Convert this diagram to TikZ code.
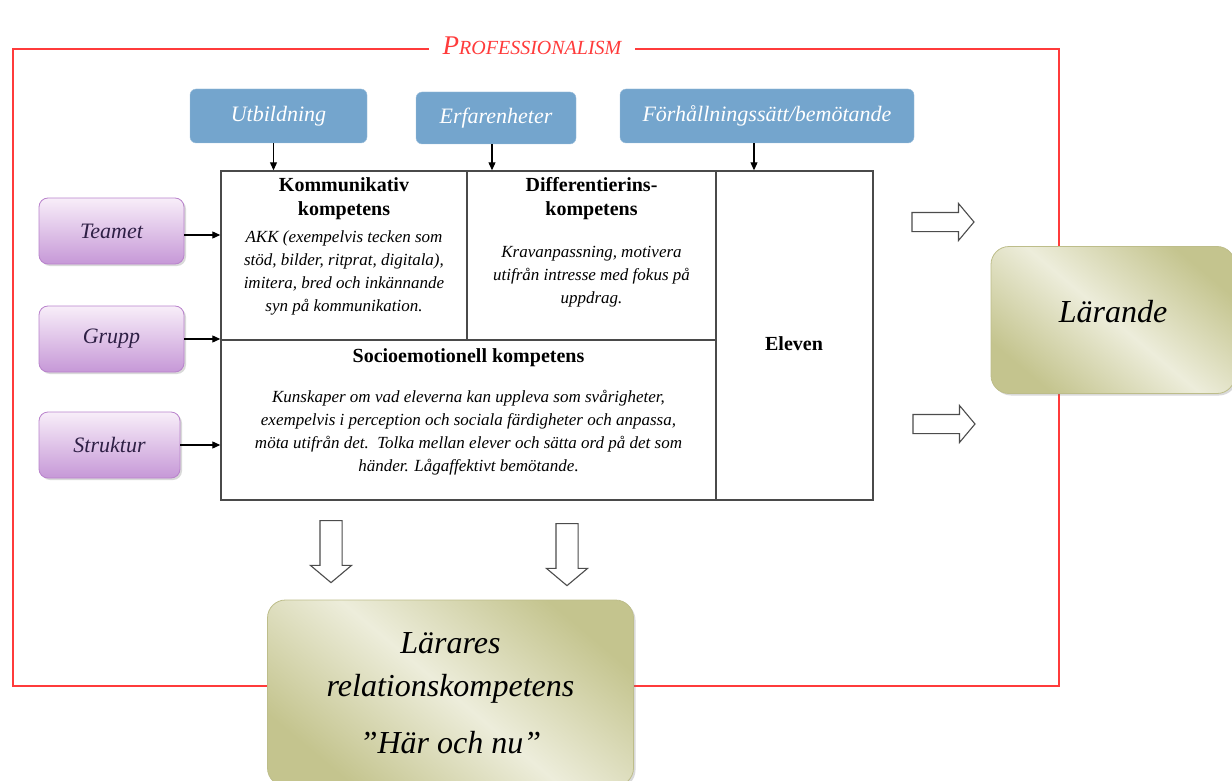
\documentclass[tikz,border=0pt]{standalone}
\usepackage{fontspec}
\setmainfont{Liberation Serif}
\usetikzlibrary{arrows.meta,positioning,shapes.arrows,shadows}
\definecolor{frred}{HTML}{FF3B3B}
\definecolor{srcblue}{HTML}{74A5CD}
\definecolor{grplight}{HTML}{F8EEF9}
\definecolor{grpdark}{HTML}{C698D7}
\definecolor{grpedge}{HTML}{B983CC}
\definecolor{grptext}{HTML}{2E1F45}
\definecolor{olvdark}{HTML}{C4C48E}
\definecolor{olvlight}{HTML}{EDEDDB}
\definecolor{olvedge}{HTML}{BDBD8A}
\definecolor{cellgray}{HTML}{4A4A4A}

\begin{document}
\begin{tikzpicture}[
    x=1pt,
    y=-1pt,
    source/.style={rectangle, rounded corners=6pt, fill=srcblue, draw=srcblue!70!white, text=white, font=\fontsize{22}{26}\selectfont\itshape, inner sep=0pt},
    factor/.style={rectangle, rounded corners=9pt, draw=grpedge, thick, top color=grplight, bottom color=grpdark, text=grptext, font=\fontsize{22}{26}\selectfont\itshape, inner sep=0pt, minimum height=66pt, drop shadow={opacity=0.3, shadow xshift=2pt, shadow yshift=-2pt}},
    outcome/.style={rectangle, rounded corners=18pt, draw=olvedge, thick, shading=axis, left color=olvdark, right color=olvdark, middle color=olvlight, shading angle=-40, align=center, inner sep=0pt, font=\fontsize{32}{43}\selectfont\itshape, drop shadow={opacity=0.3, shadow xshift=2pt, shadow yshift=-2pt}},
    cell/.style={rectangle, draw=cellgray, line width=1.4pt, inner sep=0pt},
    cellhead/.style={font=\fontsize{20}{24}\selectfont\bfseries, align=center, inner sep=0pt},
    celltext/.style={font=\fontsize{17}{23}\selectfont\itshape, align=center, inner sep=0pt},
    link/.style={-{Triangle[length=8pt,width=7pt]}, line width=1.1pt, black},
    hollow/.style={single arrow, draw=black!70, fill=white, line width=1.1pt, inner xsep=0pt, inner ysep=9pt, single arrow head extend=9pt, single arrow tip angle=100, minimum height=62pt},
    hollowdown/.style={hollow, shape border rotate=270, inner xsep=10.5pt, inner ysep=0pt, single arrow head extend=9.5pt}
  ]
    \useasboundingbox (0,0) rectangle (1232,781);

    % frame
    \draw[frred, line width=1.3pt] (13,49) rectangle (1059,686);
    \node[fill=white, text=frred, inner xsep=14pt, inner ysep=2pt, font=\itshape] (prof) at (532,46)
      {\fontsize{27}{30}\selectfont P\fontsize{20}{30}\selectfont ROFESSIONALISM};

    % sources
    \node[source, minimum width=177pt, minimum height=54pt] (utb) at (278.5,116) {Utbildning};
    \node[source, minimum width=160pt, minimum height=52pt] (erf) at (496,118) {Erfarenheter};
    \node[source, minimum width=294pt, minimum height=54pt] (forh) at (767,116) {Förhållningssätt/bemötande};

    % table
    \node[cell, minimum width=246pt, minimum height=169pt] (komm) at (344,255.5) {};
    \node[cell, minimum width=249pt, minimum height=169pt] (diff) at (591.5,255.5) {};
    \node[cell, minimum width=495pt, minimum height=160pt] (socio) at (468.5,420) {};
    \node[cell, minimum width=157pt, minimum height=329pt] (elev) at (794.5,335.5) {};

    \node[cellhead, below=7pt of komm.north] (kommh) {Kommunikativ\\kompetens};
    \node[celltext, below=11pt of kommh] (kommt) {AKK (exempelvis tecken som\\stöd, bilder, ritprat, digitala),\\imitera, bred och inkännande\\syn på kommunikation.};
    \node[cellhead, below=7pt of diff.north] (diffh) {Differentierins-\\kompetens};
    \node[celltext, below=26pt of diffh] (difft) {Kravanpassning, motivera\\utifrån intresse med fokus på\\uppdrag.};
    \node[cellhead, below=9pt of socio.north] (socioh) {Socioemotionell kompetens};
    \node[celltext, below=23pt of socioh] (sociot) {Kunskaper om vad eleverna kan uppleva som svårigheter,\\exempelvis i perception och sociala färdigheter och anpassa,\\möta utifrån det.\ \ Tolka mellan elever och sätta ord på det som\\händer. Lågaffektivt bemötande.};
    \node[cellhead] (elevh) at (794,344) {Eleven};

    % factors
    \node[factor, minimum width=145pt] (team) at (111.5,231) {Teamet};
    \node[factor, minimum width=145pt] (grp) at (111.5,339) {Grupp};
    \node[factor, minimum width=141pt] (str) at (109.5,445) {Struktur};

    % outcomes
    \node[outcome, minimum width=244pt, minimum height=147pt, text depth=18pt] (lar) at (1113,320) {Lärande};
    \node[outcome, minimum width=366pt, minimum height=186pt] (rel) at (450.5,693)
      {Lärares\\relationskompetens\\[14pt]”Här och nu”};

    % hollow arrows
    \node[hollow] (ha1) at (939,222) {};
    \node[hollow] (ha2) at (940,424) {};
    \node[hollowdown] (hb1) at (331,547) {};
    \node[hollowdown] (hb2) at (567,550) {};

    % links
    \draw[link] ([xshift=-5pt]utb.south) -- ([xshift=-5pt]utb.south |- komm.north);
    \draw[link] ([xshift=-4pt]erf.south) -- ([xshift=-4pt]erf.south |- diff.north);
    \draw[link] ([xshift=-13pt]forh.south) -- ([xshift=-13pt]forh.south |- elev.north);
    \draw[link] ([yshift=-4pt]team.east) -- ([yshift=-4pt]team.east -| komm.west);
    \draw[link] (grp.east) -- (grp.east -| komm.west);
    \draw[link] (str.east) -- (str.east -| socio.west);
\end{tikzpicture}
\end{document}
